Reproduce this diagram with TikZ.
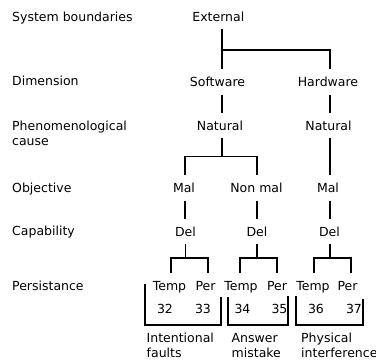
\documentclass[tikz,border=0pt]{standalone}
\usepackage{fontspec}
\setmainfont{DejaVu Sans}
\newcommand{\lbfont}{\fontsize{12.5}{15}\selectfont}
\begin{document}
\begin{tikzpicture}[x=1pt,y=-1pt,
  lbl/.style={anchor=base west, inner sep=0pt, font=\lbfont, align=left},
  tn/.style={anchor=base, inner xsep=0pt, inner ysep=6pt, text height=11pt, text depth=2pt, font=\lbfont},
  num/.style={anchor=base, inner sep=0pt, font=\lbfont},
  wire/.style={line width=1.9pt, black}]
\useasboundingbox (0,0) rectangle (376,362);

% row captions (multi-line nodes sit on the baseline of their last line)
\node[lbl] (cSys) at (12,21) {System boundaries};
\node[lbl] (cDim) at (12,85) {Dimension};
\node[lbl] (cPhen) at (12,145) {Phenomenological\\cause};
\node[lbl] (cObj) at (12,192) {Objective};
\node[lbl] (cCap) at (12,235) {Capability};
\node[lbl] (cPers) at (12,290) {Persistance};

% tree nodes
\node[tn] (ext) at (218.3,21) {External};
\node[tn] (sw) at (217.5,86.5) {Software};
\node[tn] (hw) at (328,86.5) {Hardware};
\node[tn] (natL) at (220,130) {Natural};
\node[tn] (natR) at (328.5,130) {Natural};
\node[tn] (malL) at (184,192.5) {Mal};
\node[tn] (nonmal) at (256.5,192.5) {Non mal};
\node[tn] (malR) at (328,192.5) {Mal};
\node[tn] (delL) at (185.5,236) {Del};
\node[tn] (delM) at (257,236) {Del};
\node[tn] (delR) at (329.5,236) {Del};
\node[tn] (t1) at (169.5,290) {Temp};
\node[tn] (p1) at (205.5,290) {Per};
\node[tn] (t2) at (241,290) {Temp};
\node[tn] (p2) at (277,290) {Per};
\node[tn] (t3) at (313,290) {Temp};
\node[tn] (p3) at (347.5,290) {Per};

% fault numbers
\node[num] (n32) at (165,313.5) {32};
\node[num] (n33) at (203,313.5) {33};
\node[num] (n34) at (242.5,313.5) {34};
\node[num] (n35) at (279.5,313.5) {35};
\node[num] (n36) at (316,313.5) {36};
\node[num] (n37) at (354,313.5) {37};

% group names
\node[lbl] (gInt) at (146.5,357) {Intentional\\faults};
\node[lbl] (gAns) at (231.5,357) {Answer\\mistake};
\node[lbl] (gPhy) at (301,357) {Physical\\interference};

% junction points
\coordinate (j1) at (222,50);
\coordinate (j2) at (222,156.5);
\coordinate (k1) at (185.5,258);
\coordinate (k2) at (257,258);
\coordinate (k3) at (330,258);

% connectors
\draw[wire] ([xshift=3.7pt]ext.south) -- ([xshift=4.5pt]sw.north);
\draw[wire] (j1) -| ([xshift=2pt]hw.north);
\draw[wire] ([xshift=4.5pt]sw.south) -- ([xshift=2pt]natL.north);
\draw[wire] ([xshift=2pt]hw.south) -- ([xshift=1.5pt]natR.north);
\draw[wire] ([xshift=2pt]natL.south) -- (j2);
\draw[wire] ([xshift=1pt]malL.north) |- (j2) -| ([xshift=0.5pt]nonmal.north);
\draw[wire] ([xshift=1.5pt]natR.south) -- ([xshift=2pt]malR.north);
\draw[wire] ([xshift=1pt]malL.south) -- ([xshift=-0.5pt]delL.north);
\draw[wire] ([xshift=0.5pt]nonmal.south) -- (delM.north);
\draw[wire] ([xshift=2pt]malR.south) -- ([xshift=0.5pt]delR.north);
\draw[wire] (delL.south) -- (k1);
\draw[wire] (delM.south) -- (k2);
\draw[wire] ([xshift=0.5pt]delR.south) -- (k3);
\draw[wire] ([xshift=1.5pt]t1.north) |- (k1) -| ([xshift=2.5pt]p1.north);
\draw[wire] ([xshift=-1pt]t2.north) |- (k2) -| (p2.north);
\draw[wire] ([xshift=1pt]t3.north) |- (k3) -| ([xshift=3.5pt]p3.north);

% group brackets
\draw[wire] (145,284) |- (221,325) -- (221,297);
\draw[wire] (228,297) |- (288,325) -- (288,296);
\draw[wire] (296,296) |- (363,325) -- (363,299);
\end{tikzpicture}
\end{document}
